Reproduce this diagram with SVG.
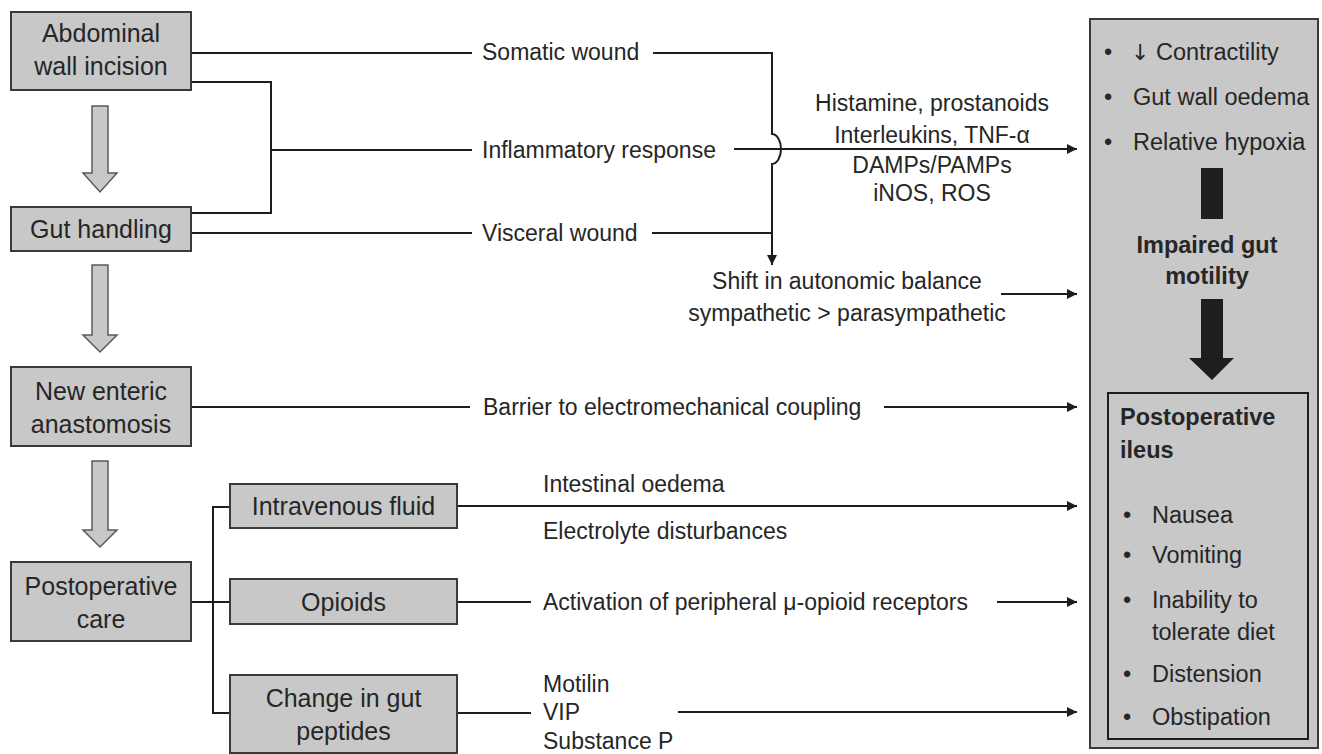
<svg xmlns="http://www.w3.org/2000/svg" width="1322" height="754" viewBox="0 0 1322 754">
<style>
.box{fill:#c8c8c8;stroke:#3a3a3a;stroke-width:2}
.bt{font-family:"Liberation Sans",Arial,sans-serif;font-size:25px;fill:#262626;text-anchor:middle}
.lt{font-family:"Liberation Sans",Arial,sans-serif;font-size:23px;fill:#262626}
.rt{font-family:"Liberation Sans",Arial,sans-serif;font-size:23.5px;fill:#262626}
.bold{font-weight:bold}
.ln{fill:none;stroke:#1e1e1e;stroke-width:2}
.garrow{fill:#c8c8c8;stroke:#5a5a5a;stroke-width:1.5}
</style>
<defs>
<marker id="ah" markerUnits="userSpaceOnUse" markerWidth="12" markerHeight="12" refX="10" refY="5" orient="auto">
<path d="M0,0 L10,5 L0,10 z" fill="#1e1e1e"/>
</marker>
</defs>
<rect width="1322" height="754" fill="#ffffff"/>

<g id="connectors">
<path class="ln" d="M191,53 H472"/>
<path class="ln" d="M191,82 H271 V213 H191"/>
<path class="ln" d="M271,150 H472"/>
<path class="ln" d="M191,233 H472"/>
<path class="ln" d="M653,53 H772 V134 A9 15 0 0 1 772,164 V265" marker-end="url(#ah)"/>
<path class="ln" d="M652,233 H772"/>
<path class="ln" d="M734,149 H1077" marker-end="url(#ah)"/>
<path class="ln" d="M1001,294 H1077" marker-end="url(#ah)"/>
<path class="ln" d="M191,407 H470"/>
<path class="ln" d="M884,407 H1077" marker-end="url(#ah)"/>
<path class="ln" d="M191,602 H230"/>
<path class="ln" d="M230,507 H213 V713 H230"/>
<path class="ln" d="M457,506 H1077" marker-end="url(#ah)"/>
<path class="ln" d="M457,602 H531"/>
<path class="ln" d="M997,602 H1077" marker-end="url(#ah)"/>
<path class="ln" d="M457,713 H531"/>
<path class="ln" d="M678,712 H1077" marker-end="url(#ah)"/>
</g>

<g id="flow-arrows">
<path class="garrow" d="M92,106 H108 V173 H117 L100,192 L83,173 H92 Z"/>
<path class="garrow" d="M92,265 H108 V335 H117 L100,352 L83,335 H92 Z"/>
<path class="garrow" d="M92,461 H108 V530 H117 L100,547 L83,530 H92 Z"/>
</g>

<g id="node-abdominal">
<rect class="box" x="11" y="12" width="180" height="78"/>
<text class="bt" x="101" y="42">Abdominal</text>
<text class="bt" x="101" y="75">wall incision</text>
</g>
<g id="node-gut-handling">
<rect class="box" x="11" y="207" width="180" height="44"/>
<text class="bt" x="101" y="238">Gut handling</text>
</g>
<g id="node-anastomosis">
<rect class="box" x="11" y="367" width="180" height="79"/>
<text class="bt" x="101" y="400">New enteric</text>
<text class="bt" x="101" y="433">anastomosis</text>
</g>
<g id="node-postop-care">
<rect class="box" x="11" y="562" width="180" height="79"/>
<text class="bt" x="101" y="595">Postoperative</text>
<text class="bt" x="101" y="628">care</text>
</g>
<g id="node-iv-fluid">
<rect class="box" x="230" y="484" width="227" height="44"/>
<text class="bt" x="343.5" y="515">Intravenous fluid</text>
</g>
<g id="node-opioids">
<rect class="box" x="230" y="579" width="227" height="45"/>
<text class="bt" x="343.5" y="611">Opioids</text>
</g>
<g id="node-gut-peptides">
<rect class="box" x="230" y="675" width="227" height="78"/>
<text class="bt" x="343.5" y="707">Change in gut</text>
<text class="bt" x="343.5" y="740">peptides</text>
</g>

<g id="labels">
<text class="lt" x="482" y="60">Somatic wound</text>
<text class="lt" x="482" y="158">Inflammatory response</text>
<text class="lt" x="482" y="241">Visceral wound</text>
<text class="lt" x="932" y="111" text-anchor="middle">Histamine, prostanoids</text>
<text class="lt" x="932" y="143" text-anchor="middle">Interleukins, TNF-α</text>
<text class="lt" x="932" y="173" text-anchor="middle">DAMPs/PAMPs</text>
<text class="lt" x="932" y="201" text-anchor="middle">iNOS, ROS</text>
<text class="lt" x="847" y="289" text-anchor="middle">Shift in autonomic balance</text>
<text class="lt" x="847" y="321" text-anchor="middle">sympathetic &gt; parasympathetic</text>
<text class="lt" x="483" y="415">Barrier to electromechanical coupling</text>
<text class="lt" x="543" y="492">Intestinal oedema</text>
<text class="lt" x="543" y="539">Electrolyte disturbances</text>
<text class="lt" x="543" y="610">Activation of peripheral μ-opioid receptors</text>
<text class="lt" x="543" y="692">Motilin</text>
<text class="lt" x="543" y="720">VIP</text>
<text class="lt" x="543" y="749">Substance P</text>
</g>

<g id="node-outcome">
<rect class="box" x="1090" y="19" width="228" height="729"/>
<text class="rt" x="1104" y="60">•</text>
<text class="rt" x="1131" y="60"><tspan font-family="'DejaVu Sans',sans-serif" font-size="22">↓</tspan> Contractility</text>
<text class="rt" x="1104" y="105">•</text>
<text class="rt" x="1133" y="105">Gut wall oedema</text>
<text class="rt" x="1104" y="150">•</text>
<text class="rt" x="1133" y="150">Relative hypoxia</text>
<rect x="1201" y="168" width="22" height="51" fill="#1e1e1e"/>
<text class="rt bold" x="1207" y="253" text-anchor="middle">Impaired gut</text>
<text class="rt bold" x="1207" y="284" text-anchor="middle">motility</text>
<path d="M1201,299 H1223 V358 H1234 L1212,380 L1189,358 H1201 Z" fill="#1e1e1e"/>
</g>
<g id="node-ileus">
<rect x="1108" y="393" width="200" height="346" fill="#c8c8c8" stroke="#1e1e1e" stroke-width="2"/>
<text class="rt bold" x="1120" y="425">Postoperative</text>
<text class="rt bold" x="1120" y="458">ileus</text>
<text class="rt" x="1123" y="523">•</text>
<text class="rt" x="1152" y="523">Nausea</text>
<text class="rt" x="1123" y="563">•</text>
<text class="rt" x="1152" y="563">Vomiting</text>
<text class="rt" x="1123" y="608">•</text>
<text class="rt" x="1152" y="608">Inability to</text>
<text class="rt" x="1152" y="640">tolerate diet</text>
<text class="rt" x="1123" y="682">•</text>
<text class="rt" x="1152" y="682">Distension</text>
<text class="rt" x="1123" y="725">•</text>
<text class="rt" x="1152" y="725">Obstipation</text>
</g>
</svg>
